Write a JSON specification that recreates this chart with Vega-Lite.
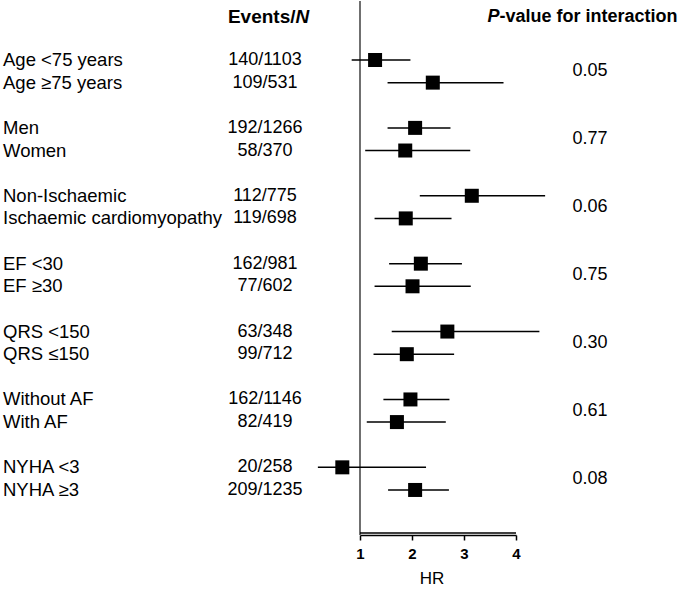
{
  "$schema": "https://vega.github.io/schema/vega-lite/v6.json",
  "padding": 0,
  "bounds": "flush",
  "spacing": 0,
  "config": {
    "view": {"stroke": null},
    "font": "Liberation Sans",
    "text": {"font": "Liberation Sans", "color": "black"},
    "axis": {"labelFont": "Liberation Sans", "titleFont": "Liberation Sans"}
  },
  "datasets": {
    "rows": [
      {"group": "Age", "label": "Age <75 years", "events": "140/1103", "hr": 1.29, "lo": 0.84, "hi": 1.97, "p": "0.05", "row": 0},
      {"group": "Age", "label": "Age ≥75 years", "events": "109/531", "hr": 2.40, "lo": 1.53, "hi": 3.76, "p": "0.05", "row": 1},
      {"group": "Sex", "label": "Men", "events": "192/1266", "hr": 2.06, "lo": 1.53, "hi": 2.74, "p": "0.77", "row": 3},
      {"group": "Sex", "label": "Women", "events": "58/370", "hr": 1.87, "lo": 1.10, "hi": 3.12, "p": "0.77", "row": 4},
      {"group": "Aetiology", "label": "Non-Ischaemic", "events": "112/775", "hr": 3.15, "lo": 2.15, "hi": 4.56, "p": "0.06", "row": 6},
      {"group": "Aetiology", "label": "Ischaemic cardiomyopathy", "events": "119/698", "hr": 1.88, "lo": 1.28, "hi": 2.76, "p": "0.06", "row": 7},
      {"group": "EF", "label": "EF <30", "events": "162/981", "hr": 2.17, "lo": 1.56, "hi": 2.96, "p": "0.75", "row": 9},
      {"group": "EF", "label": "EF ≥30", "events": "77/602", "hr": 2.01, "lo": 1.28, "hi": 3.13, "p": "0.75", "row": 10},
      {"group": "QRS", "label": "QRS <150", "events": "63/348", "hr": 2.68, "lo": 1.61, "hi": 4.45, "p": "0.30", "row": 12},
      {"group": "QRS", "label": "QRS ≤150", "events": "99/712", "hr": 1.90, "lo": 1.26, "hi": 2.81, "p": "0.30", "row": 13},
      {"group": "AF", "label": "Without AF", "events": "162/1146", "hr": 1.97, "lo": 1.45, "hi": 2.72, "p": "0.61", "row": 15},
      {"group": "AF", "label": "With AF", "events": "82/419", "hr": 1.71, "lo": 1.13, "hi": 2.65, "p": "0.61", "row": 16},
      {"group": "NYHA", "label": "NYHA <3", "events": "20/258", "hr": 0.66, "lo": 0.19, "hi": 2.27, "p": "0.08", "row": 18},
      {"group": "NYHA", "label": "NYHA ≥3", "events": "209/1235", "hr": 2.06, "lo": 1.54, "hi": 2.71, "p": "0.08", "row": 19}
    ],
    "one": [{"k": 1}],
    "axisline": [{"from": 1, "to": 4, "pos": 20.9}]
  },
  "hconcat": [
    {
      "width": 225,
      "height": 534,
      "data": {"name": "rows"},
      "mark": {"type": "text", "align": "left", "baseline": "middle", "fontSize": 18.5, "dx": 3},
      "encoding": {
        "x": {"datum": 1, "type": "quantitative", "scale": {"domain": [1, 2]}, "axis": null},
        "y": {"field": "row", "type": "quantitative", "scale": {"domain": [-2.607, 20.99], "reverse": true, "nice": false, "zero": false}, "axis": null},
        "text": {"field": "label", "type": "nominal"}
      }
    },
    {
      "width": 134.5,
      "height": 534,
      "layer": [
        {
          "data": {"name": "rows"},
          "mark": {"type": "text", "align": "center", "baseline": "middle", "fontSize": 18},
          "encoding": {
            "x": {"datum": 0.2974, "type": "quantitative", "scale": {"domain": [0, 1]}, "axis": null},
            "y": {"field": "row", "type": "quantitative", "scale": {"domain": [-2.607, 20.99], "reverse": true, "nice": false, "zero": false}, "axis": null},
            "text": {"field": "events", "type": "nominal"}
          }
        },
        {
          "data": {"name": "one"},
          "mark": {"type": "text", "align": "right", "baseline": "middle", "fontSize": 19, "fontWeight": "bold", "text": "Events/"},
          "encoding": {
            "x": {"datum": 0.5245, "type": "quantitative"},
            "y": {"datum": -1.9, "type": "quantitative"}
          }
        },
        {
          "data": {"name": "one"},
          "mark": {"type": "text", "align": "left", "baseline": "middle", "fontSize": 19, "fontWeight": "bold", "fontStyle": "italic", "text": "N"},
          "encoding": {
            "x": {"datum": 0.5245, "type": "quantitative"},
            "y": {"datum": -1.9, "type": "quantitative"}
          }
        }
      ]
    },
    {
      "width": 156,
      "height": 534,
      "layer": [
        {
          "data": {"name": "one"},
          "mark": {"type": "rule", "color": "#222222", "strokeWidth": 1.3},
          "encoding": {
            "x": {"field": "k", "type": "quantitative", "scale": {"domain": [1, 4], "nice": false, "zero": false}}
          }
        },
        {
          "data": {"name": "rows"},
          "mark": {"type": "rule", "color": "black", "strokeWidth": 1.5},
          "encoding": {
            "x": {
              "field": "lo", "type": "quantitative",
              "axis": {
                "values": [1, 2, 3, 4], "domain": true, "domainColor": "black", "domainWidth": 1.5, "grid": false,
                "tickColor": "black", "tickSize": 5, "tickWidth": 1.5,
                "labelFontSize": 15, "labelFontWeight": "bold", "labelColor": "black", "labelPadding": 6,
                "labelFlush": false,
                "title": "HR", "titleFontSize": 17, "titleFontWeight": "normal", "titleColor": "black", "titlePadding": 9,
                "titleX": 71.5
              }
            },
            "x2": {"field": "hi"},
            "y": {"field": "row", "type": "quantitative", "scale": {"domain": [-2.607, 20.99], "reverse": true, "nice": false, "zero": false}, "axis": null}
          }
        },
        {
          "data": {"name": "rows"},
          "mark": {"type": "square", "filled": true, "color": "black", "opacity": 1, "size": 196},
          "encoding": {
            "x": {"field": "hr", "type": "quantitative"},
            "y": {"field": "row", "type": "quantitative"}
          }
        },
        {
          "data": {"name": "axisline"},
          "mark": {"type": "rule", "color": "black", "strokeWidth": 1.5},
          "encoding": {
            "x": {"field": "from", "type": "quantitative"},
            "x2": {"field": "to"},
            "y": {"field": "pos", "type": "quantitative"}
          }
        }
      ]
    },
    {
      "width": 164.5,
      "height": 534,
      "layer": [
        {
          "data": {"name": "rows"},
          "transform": [{"aggregate": [{"op": "mean", "field": "row", "as": "mid"}], "groupby": ["group", "p"]}],
          "mark": {"type": "text", "align": "center", "baseline": "middle", "fontSize": 18},
          "encoding": {
            "x": {"datum": 0.4498, "type": "quantitative", "scale": {"domain": [0, 1]}, "axis": null},
            "y": {"field": "mid", "type": "quantitative", "scale": {"domain": [-2.607, 20.99], "reverse": true, "nice": false, "zero": false}, "axis": null},
            "text": {"field": "p", "type": "nominal"}
          }
        },
        {
          "data": {"name": "one"},
          "mark": {"type": "text", "align": "right", "baseline": "middle", "fontSize": 18, "fontWeight": "bold", "fontStyle": "italic", "text": "P"},
          "encoding": {
            "x": {"datum": -0.1003, "type": "quantitative"},
            "y": {"datum": -1.9, "type": "quantitative"}
          }
        },
        {
          "data": {"name": "one"},
          "mark": {"type": "text", "align": "left", "baseline": "middle", "fontSize": 18, "fontWeight": "bold", "text": "-value for interaction"},
          "encoding": {
            "x": {"datum": -0.1003, "type": "quantitative"},
            "y": {"datum": -1.9, "type": "quantitative"}
          }
        }
      ]
    }
  ]
}
